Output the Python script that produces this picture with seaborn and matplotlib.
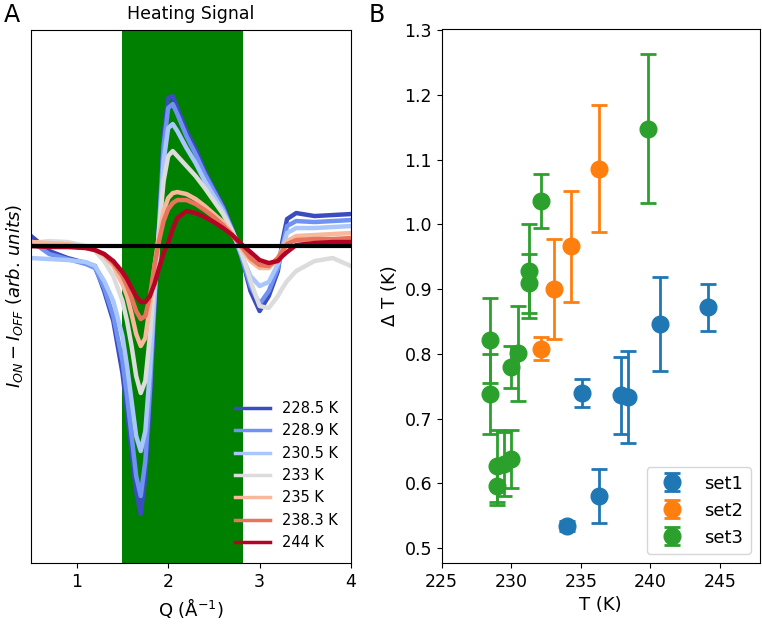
import matplotlib
matplotlib.use('Agg')
import matplotlib.pyplot as plt
import seaborn as sns
import numpy as np

# Panel A: heating signal curves (arb. units)
q = [0.5, 0.7, 0.9, 1.1, 1.2, 1.3, 1.4, 1.5, 1.55, 1.6, 1.65, 1.7, 1.75, 1.8, 1.85,
     1.9, 1.95, 2.0, 2.05, 2.1, 2.2, 2.3, 2.4, 2.5, 2.6, 2.7, 2.8, 2.9, 3.0, 3.1,
     3.2, 3.25, 3.3, 3.4, 3.6, 3.8, 4.0]

sig_2285 = [0.10, -0.05, -0.12, -0.17, -0.20, -0.45, -0.75, -1.27, -1.65, -2.05, -2.45, -2.68,
            -2.30, -1.55, -0.60, 0.20, 1.10, 1.48, 1.50, 1.38, 1.15, 0.97, 0.75, 0.57, 0.40,
            0.17, -0.10, -0.45, -0.65, -0.50, -0.25, 0.05, 0.27, 0.33, 0.30, 0.31, 0.32]
sig_2289 = [0.05, -0.08, -0.13, -0.18, -0.22, -0.42, -0.70, -1.15, -1.50, -1.90, -2.30, -2.50,
            -2.15, -1.45, -0.55, 0.20, 1.00, 1.38, 1.42, 1.32, 1.10, 0.92, 0.72, 0.55, 0.38,
            0.16, -0.10, -0.40, -0.58, -0.45, -0.22, 0.00, 0.20, 0.25, 0.24, 0.25, 0.26]
sig_2305 = [-0.12, -0.13, -0.14, -0.16, -0.20, -0.35, -0.55, -0.90, -1.20, -1.55, -1.90, -2.05,
            -1.85, -1.25, -0.50, 0.15, 0.85, 1.18, 1.22, 1.15, 0.98, 0.83, 0.65, 0.50, 0.35,
            0.15, -0.08, -0.30, -0.40, -0.36, -0.18, -0.02, 0.13, 0.18, 0.18, 0.19, 0.20]
sig_233 = [0.03, 0.05, 0.04, 0.00, -0.05, -0.15, -0.30, -0.55, -0.75, -1.00, -1.30, -1.47,
           -1.35, -0.90, -0.35, 0.15, 0.65, 0.90, 0.95, 0.90, 0.80, 0.70, 0.58, 0.45, 0.32,
           0.15, -0.05, -0.35, -0.60, -0.62, -0.50, -0.42, -0.35, -0.25, -0.15, -0.12, -0.20]
sig_235 = [0.04, 0.03, 0.02, -0.01, -0.04, -0.10, -0.20, -0.38, -0.50, -0.68, -0.88, -1.00,
           -0.92, -0.60, -0.20, 0.10, 0.35, 0.48, 0.53, 0.54, 0.52, 0.47, 0.40, 0.32, 0.24,
           0.12, -0.02, -0.15, -0.22, -0.22, -0.12, -0.03, 0.05, 0.10, 0.11, 0.12, 0.13]
sig_2383 = [0.00, 0.00, 0.00, -0.02, -0.04, -0.08, -0.17, -0.30, -0.40, -0.52, -0.65, -0.73,
            -0.70, -0.50, -0.20, 0.05, 0.25, 0.37, 0.43, 0.46, 0.46, 0.42, 0.36, 0.29, 0.21,
            0.11, 0.00, -0.12, -0.19, -0.20, -0.12, -0.05, 0.02, 0.06, 0.07, 0.07, 0.08]
sig_244 = [0.00, -0.01, -0.01, -0.02, -0.04, -0.08, -0.15, -0.26, -0.33, -0.42, -0.50, -0.56,
           -0.56, -0.50, -0.38, -0.22, -0.07, 0.03, 0.17, 0.28, 0.35, 0.33, 0.29, 0.24, 0.18,
           0.11, 0.02, -0.06, -0.14, -0.17, -0.15, -0.10, -0.06, 0.01, 0.03, 0.04, 0.04]

curve_labels = ['228.5 K', '228.9 K', '230.5 K', '233 K', '235 K', '238.3 K', '244 K']
curves = [sig_2285, sig_2289, sig_2305, sig_233, sig_235, sig_2383, sig_244]

# Panel B: Delta T vs T
set1_T = [234.0, 235.1, 236.3, 237.9, 238.4, 240.7, 244.1]
set1_dT = [0.534, 0.740, 0.581, 0.736, 0.734, 0.846, 0.872]
set1_err = [0.008, 0.022, 0.042, 0.060, 0.071, 0.073, 0.036]

set2_T = [232.1, 233.1, 234.3, 236.3]
set2_dT = [0.808, 0.900, 0.966, 1.086]
set2_err = [0.018, 0.077, 0.085, 0.098]

set3_T = [228.5, 228.5, 228.95, 229.0, 229.45, 229.95, 229.95, 230.45, 231.25, 231.25, 232.1, 239.85]
set3_dT = [0.821, 0.738, 0.596, 0.627, 0.630, 0.638, 0.780, 0.801, 0.928, 0.909, 1.036, 1.148]
set3_err = [0.066, 0.062, 0.030, 0.055, 0.050, 0.045, 0.033, 0.073, 0.073, 0.045, 0.042, 0.115]

fig = plt.figure(figsize=(7.62, 6.26), dpi=100)
ax1 = fig.add_axes([0.0407, 0.1006, 0.42, 0.8514])
ax2 = fig.add_axes([0.5797, 0.1006, 0.4173, 0.8531])

# --- A ---
ax1.axvspan(1.5, 2.82, color='green', lw=0)
cols = plt.get_cmap('coolwarm')(np.linspace(0, 1, len(curves)))
for vals, lab, c in zip(curves, curve_labels, cols):
    sns.lineplot(x=q, y=vals, color=c, lw=3.2, label=lab, ax=ax1)
ax1.axhline(0, color='k', lw=3)
ax1.set_xlim(0.5, 4)
ax1.set_ylim(-3.17, 2.16)
ax1.set_xticks([1, 2, 3, 4])
ax1.set_yticks([])
ax1.tick_params(labelsize=12.5)
ax1.set_xlabel(r'Q ($\mathrm{\AA}^{-1}$)', fontsize=13)
ax1.set_ylabel(r'$I_{ON} - I_{OFF}$ $(arb.\,units)$', fontsize=13)
ax1.set_title('Heating Signal', fontsize=12.5, pad=8)
leg = ax1.legend(loc='lower right', frameon=False, fontsize=10.5, handlelength=2.4,
                 labelspacing=0.5, borderaxespad=0.5)
for ln in leg.get_lines():
    ln.set_linewidth(2.5)

# --- B ---
ekw = dict(fmt='o', ms=12, capsize=6, elinewidth=2, capthick=2)
ax2.errorbar(set1_T, set1_dT, yerr=set1_err, color='#1f77b4', label='set1', **ekw)
ax2.errorbar(set2_T, set2_dT, yerr=set2_err, color='#ff7f0e', label='set2', **ekw)
ax2.errorbar(set3_T, set3_dT, yerr=set3_err, color='#2ca02c', label='set3', **ekw)
ax2.set_xlim(225, 247.85)
ax2.set_ylim(0.477, 1.302)
ax2.set_xticks([225, 230, 235, 240, 245])
ax2.set_yticks([0.5, 0.6, 0.7, 0.8, 0.9, 1.0, 1.1, 1.2, 1.3])
ax2.tick_params(labelsize=12.5)
ax2.set_xlabel('T (K)', fontsize=13)
ax2.set_ylabel('Δ T (K)', fontsize=13)
ax2.legend(loc='lower right', fontsize=13)

fig.text(0.005, 0.995, 'A', fontsize=17, va='top', ha='left')
fig.text(0.484, 0.995, 'B', fontsize=17, va='top', ha='left')

fig.savefig('out.png', dpi=100)
